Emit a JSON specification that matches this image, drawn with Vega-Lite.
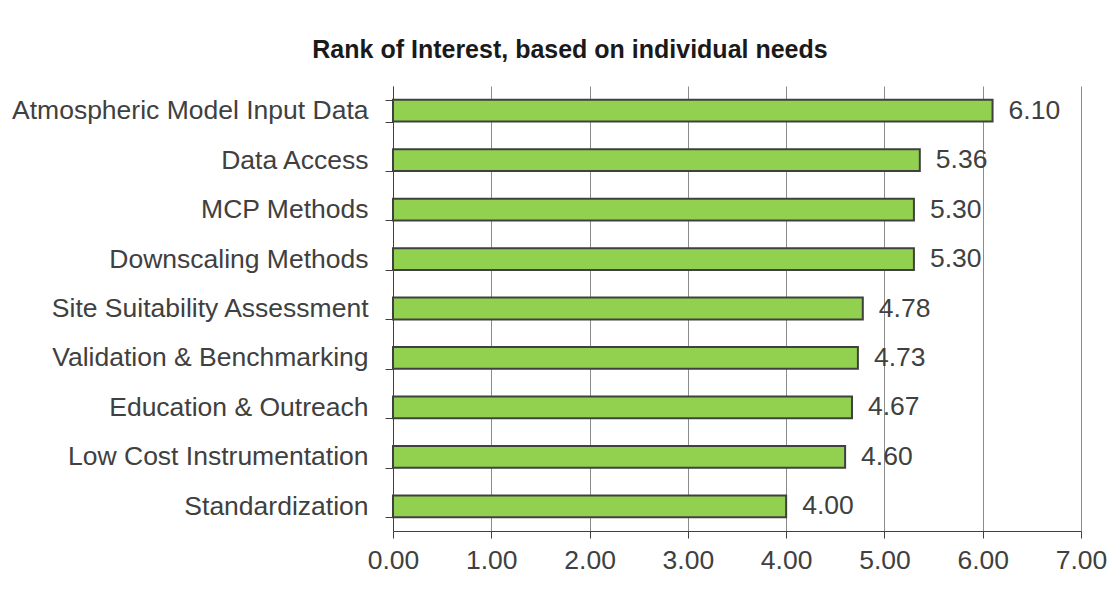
{
  "$schema": "https://vega.github.io/schema/vega-lite/v6.json",
  "width": 688,
  "height": 445,
  "autosize": "none",
  "padding": {"left": 393, "top": 86, "right": 30, "bottom": 75},
  "background": "white",
  "title": {
    "text": "Rank of Interest, based on individual needs",
    "anchor": "middle",
    "frame": "group",
    "dx": -167,
    "offset": -10,
    "baseline": "alphabetic",
    "font": "Liberation Sans",
    "fontSize": 25,
    "fontWeight": "bold",
    "color": "#1a1a1a"
  },
  "data": {
    "values": [
      {"topic": "Atmospheric Model Input Data", "score": 6.10},
      {"topic": "Data Access", "score": 5.36},
      {"topic": "MCP Methods", "score": 5.30},
      {"topic": "Downscaling Methods", "score": 5.30},
      {"topic": "Site Suitability Assessment", "score": 4.78},
      {"topic": "Validation & Benchmarking", "score": 4.73},
      {"topic": "Education & Outreach", "score": 4.67},
      {"topic": "Low Cost Instrumentation", "score": 4.60},
      {"topic": "Standardization", "score": 4.00}
    ]
  },
  "encoding": {
    "y": {
      "field": "topic",
      "type": "nominal",
      "sort": null,
      "title": null,
      "scale": {"paddingInner": 0.56, "paddingOuter": 0.28},
      "axis": {
        "tickBand": "extent",
        "tickSize": 8,
        "tickColor": "#404040",
        "domainColor": "#404040",
        "labelPadding": 17,
        "labelFont": "Liberation Sans",
        "labelFontSize": 26.5,
        "labelColor": "#404040",
        "labelLimit": 400,
        "grid": false
      }
    },
    "x": {
      "field": "score",
      "type": "quantitative",
      "title": null,
      "scale": {"domain": [0, 7], "nice": false},
      "axis": {
        "values": [0, 1, 2, 3, 4, 5, 6, 7],
        "format": ".2f",
        "grid": true,
        "gridColor": "#8c8c8c",
        "gridWidth": 1,
        "tickSize": 7,
        "tickColor": "#404040",
        "domainColor": "#404040",
        "labelPadding": 9,
        "labelFlush": false,
        "labelFont": "Liberation Sans",
        "labelFontSize": 26.5,
        "labelColor": "#404040"
      }
    }
  },
  "layer": [
    {
      "mark": {"type": "bar", "fill": "#92D050", "stroke": "#404040", "strokeWidth": 2}
    },
    {
      "mark": {"type": "text", "align": "left", "baseline": "middle", "dx": 16, "font": "Liberation Sans", "fontSize": 26.5, "color": "#404040"},
      "encoding": {"text": {"field": "score", "type": "quantitative", "format": ".2f"}}
    }
  ],
  "config": {"view": {"stroke": null}}
}
